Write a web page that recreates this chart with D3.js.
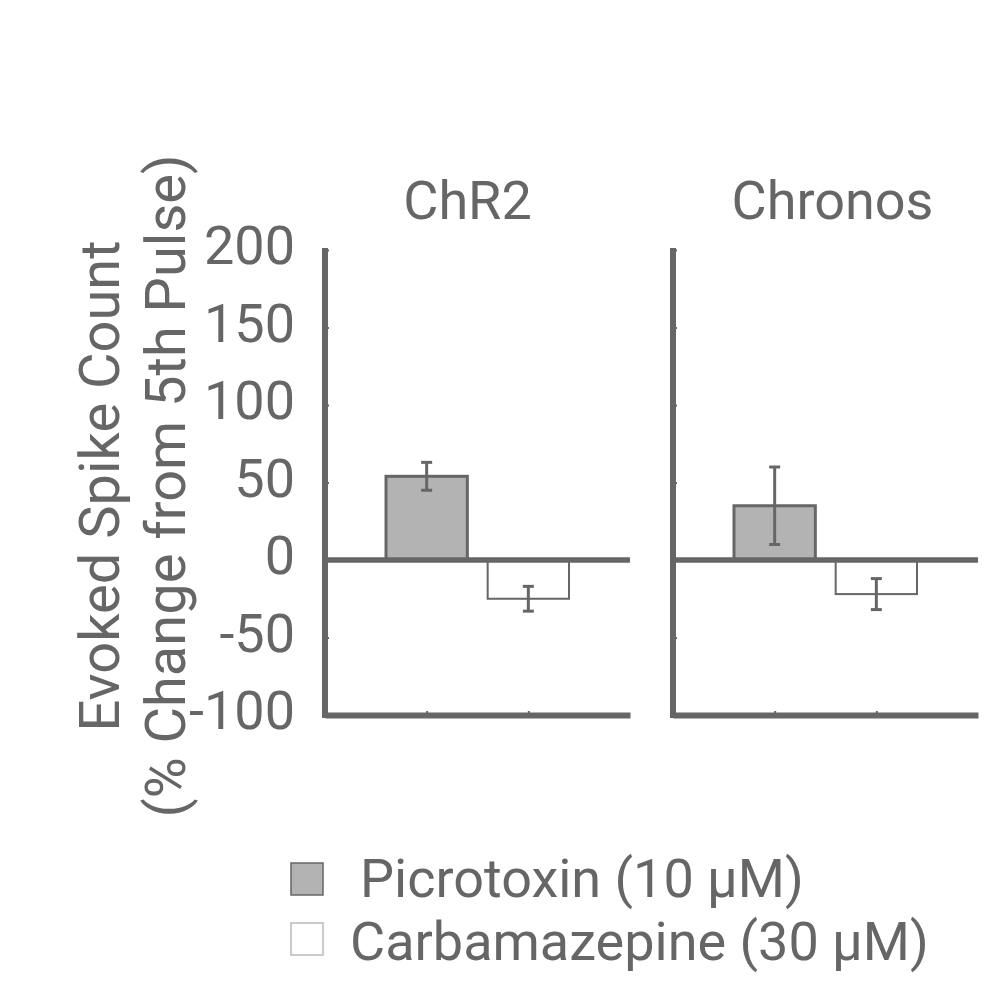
<!DOCTYPE html>
<html>
<head>
<meta charset="utf-8">
<script src="https://cdn.jsdelivr.net/npm/d3@7"></script>
<style>
  body { margin: 0; background: #fff; }
  svg text { font-family: Roboto, "Liberation Sans", sans-serif; fill: #666; }
</style>
</head>
<body>
<svg id="chart" width="1000" height="1000"></svg>
<script>
// Evoked spike count bar panels (ChR2 / Chronos), two treatments each
(() => {
  const width = 1000, height = 1000;
  const INK = "#666";

  // data
  const panels = ["ChR2", "Chronos"];
  const treatments = ["Picrotoxin (10 µM)", "Carbamazepine (30 µM)"];
  const means = [[54, -25], [35, -22]];   // per panel, per treatment
  const errors = [[9, 8], [25, 10]];
  const yTicks = [-100, -50, 0, 50, 100, 150, 200];
  const yLabel = ["Evoked Spike Count", "(% Change from 5th Pulse)"];

  const fills = ["#b3b3b3", "#fff"];
  const barStroke = [3, 2];

  const svg = d3.select("#chart").attr("viewBox", `0 0 ${width} ${height}`);

  const y = d3.scaleLinear().domain([-100, 200]).range([715, 250]);
  const panelRanges = [[325, 630], [673, 978]];
  const titleOffset = [-10, 7];

  panels.forEach((name, p) => {
    const x = d3.scalePoint().domain(treatments).range(panelRanges[p]).padding(1);
    const bw = x.step() * 0.8;
    const g = svg.append("g");

    // bars
    g.selectAll("rect.bar")
      .data(treatments)
      .join("rect")
      .attr("class", "bar")
      .attr("x", d => x(d) - bw / 2)
      .attr("width", bw)
      .attr("y", (d, i) => y(Math.max(0, means[p][i])))
      .attr("height", (d, i) => Math.abs(y(means[p][i]) - y(0)))
      .attr("fill", (d, i) => fills[i])
      .attr("stroke", INK)
      .attr("stroke-width", (d, i) => barStroke[i]);

    // error bars
    const eb = g.selectAll("g.err")
      .data(treatments)
      .join("g")
      .attr("class", "err")
      .attr("stroke", INK)
      .attr("stroke-width", 3);
    eb.append("line")
      .attr("x1", d => x(d)).attr("x2", d => x(d))
      .attr("y1", (d, i) => y(means[p][i] + errors[p][i]))
      .attr("y2", (d, i) => y(means[p][i] - errors[p][i]));
    [1, -1].forEach(s => {
      eb.append("line")
        .attr("x1", d => x(d) - 5.5).attr("x2", d => x(d) + 5.5)
        .attr("y1", (d, i) => y(means[p][i] + s * errors[p][i]))
        .attr("y2", (d, i) => y(means[p][i] + s * errors[p][i]));
    });

    // zero line
    g.append("line")
      .attr("x1", panelRanges[p][0]).attr("x2", panelRanges[p][1])
      .attr("y1", y(0)).attr("y2", y(0))
      .attr("stroke", INK).attr("stroke-width", 5.5);

    // bottom axis
    g.append("g")
      .attr("transform", `translate(0,${y(-100)})`)
      .call(d3.axisBottom(x).tickSize(-4).tickSizeOuter(0).tickFormat(""))
      .call(s => s.select(".domain").attr("stroke", INK).attr("stroke-width", 6))
      .call(s => s.selectAll(".tick line").attr("stroke", INK).attr("stroke-width", 2));

    // left axis
    const yAxis = d3.axisLeft(y).tickValues(yTicks).tickSizeInner(-4).tickSizeOuter(0)
      .tickPadding(30).tickFormat(p > 0 ? "" : d => String(d));
    g.append("g")
      .attr("transform", `translate(${panelRanges[p][0]},0)`)
      .call(yAxis)
      .call(s => s.select(".domain").attr("stroke", INK).attr("stroke-width", 6)
        .attr("d", `M0,${y(200) - 2}V${y(-100) + 3}`))
      .call(s => s.selectAll(".tick line").attr("stroke", INK).attr("stroke-width", 2))
      .call(s => s.selectAll(".tick text")
        .attr("font-size", 54).attr("dy", "0.25em")
        .style("font-family", "Roboto, sans-serif").attr("fill", INK));

    // panel title
    svg.append("text")
      .attr("x", (panelRanges[p][0] + panelRanges[p][1]) / 2 + titleOffset[p])
      .attr("y", 219)
      .attr("text-anchor", "middle")
      .attr("font-size", 54)
      .text(name);
  });

  // y label, two rotated lines
  const yLabelX = [119, 185];
  yLabel.forEach((t, i) => {
    svg.append("text")
      .attr("transform", `translate(${yLabelX[i]},486) rotate(-90)`)
      .attr("text-anchor", "middle")
      .attr("font-size", 56)
      .text(t);
  });

  // legend
  const legendStroke = [INK, "#bbb"];
  const legendTextX = [360, 350];
  const lg = svg.append("g").attr("transform", "translate(291,863)");
  treatments.forEach((t, i) => {
    lg.append("rect")
      .attr("x", 0).attr("y", i * 60)
      .attr("width", 32).attr("height", 32)
      .attr("fill", fills[i])
      .attr("stroke", legendStroke[i])
      .attr("stroke-width", 1.5);
    lg.append("text")
      .attr("x", legendTextX[i] - 291).attr("y", 34 + i * 63)
      .attr("font-size", 54)
      .text(t);
  });
})();
</script>
</body>
</html>
